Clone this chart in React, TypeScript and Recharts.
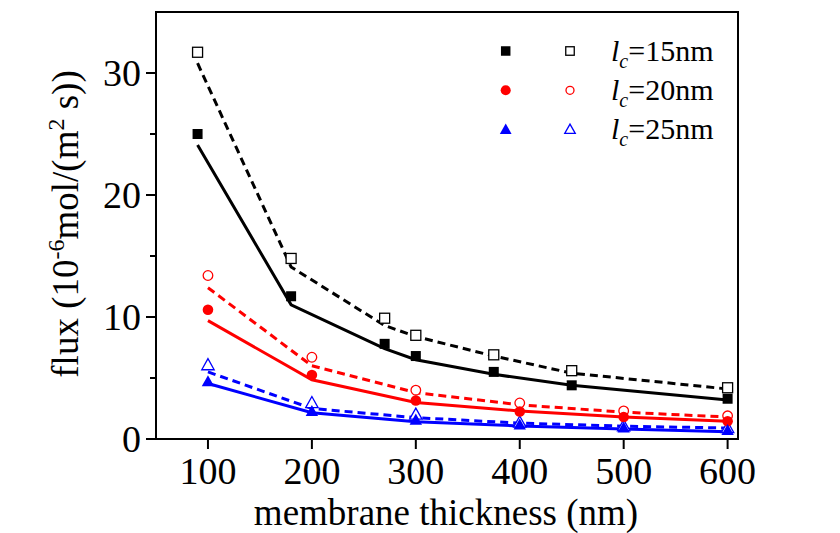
import React from 'react';
import { ComposedChart, Line, XAxis, YAxis, ReferenceArea, Legend } from 'recharts';

const FONT = '"Liberation Serif", "Times New Roman", serif';

// thickness (nm)
const thicknessA = [90, 180, 270, 300, 375, 450, 600];
const thicknessB = [100, 200, 300, 400, 500, 600];

// lc = 15 nm
const lc15Filled = [25.0, 11.7, 7.8, 6.8, 5.5, 4.4, 3.3];
const lc15Open = [31.7, 14.8, 9.9, 8.5, 6.9, 5.6, 4.2];
const lc15Solid = [24.1, 11.0, 7.4, 6.5, 5.3, 4.4, 3.2];
const lc15Dashed = [30.8, 14.1, 9.3, 8.4, 6.8, 5.4, 4.1];

// lc = 20 nm
const lc20Filled = [10.6, 5.25, 3.15, 2.25, 1.8, 1.45];
const lc20Open = [13.4, 6.7, 4.0, 2.95, 2.3, 1.9];
const lc20Solid = [9.7, 4.85, 3.0, 2.3, 1.8, 1.45];
const lc20Dashed = [12.4, 6.0, 3.8, 2.8, 2.2, 1.8];

// lc = 25 nm
const lc25Filled = [4.7, 2.25, 1.55, 1.15, 0.9, 0.7];
const lc25Open = [6.05, 2.95, 2.0, 1.35, 1.05, 0.9];
const lc25Solid = [4.55, 2.15, 1.42, 1.07, 0.82, 0.6];
const lc25Dashed = [5.5, 2.5, 1.75, 1.3, 1.05, 0.9];

const xTicks = [100, 200, 300, 400, 500, 600];
const yTicks = [0, 5, 10, 15, 20, 25, 30];
const legendLabels = ['15nm', '20nm', '25nm'];

const BLACK = '#000000';
const RED = '#ff0000';
const BLUE = '#0000ff';

const toData = (xs: number[], ys: number[]) => xs.map((x, i) => ({ x, y: ys[i] }));

type Kind = 'square' | 'circle' | 'triangle';

const Marker = ({ cx, cy, kind, color, filled, size = 1 }: any) => {
  const fill = filled ? color : '#ffffff';
  const stroke = color;
  const sw = filled ? 0 : 1.3;
  if (cx == null || cy == null) return null;
  if (kind === 'square') {
    const s = 10 * size;
    return <rect x={cx - s / 2} y={cy - s / 2} width={s} height={s} fill={fill} stroke={stroke} strokeWidth={sw} />;
  }
  if (kind === 'circle') {
    const r = 5.3 * size;
    return <circle cx={cx} cy={cy} r={filled ? r : r - 0.5} fill={fill} stroke={stroke} strokeWidth={sw} />;
  }
  const h = 6.5 * size;
  const w = 6.2 * size;
  const pts = `${cx},${cy - h} ${cx - w},${cy + h * 0.7} ${cx + w},${cy + h * 0.7}`;
  return <polygon points={pts} fill={fill} stroke={stroke} strokeWidth={sw} />;
};

const dotFn = (kind: Kind, color: string, filled: boolean) => (props: any) => (
  <Marker key={`${kind}-${color}-${filled}-${props.index}`} cx={props.cx} cy={props.cy} kind={kind} color={color} filled={filled} />
);

const YTick = (props: any) => {
  const { x, y, payload } = props;
  const axisX = x + 15;
  const v = payload.value;
  const major = v % 10 === 0;
  return (
    <g>
      <line x1={axisX - (major ? 10 : 6)} x2={axisX} y1={y} y2={y} stroke="#000" strokeWidth={2} />
      {major && (
        <text x={x} y={y} dy="0.355em" textAnchor="end" fontFamily={FONT} fontSize={38} fill="#000">
          {v}
        </text>
      )}
    </g>
  );
};

const LegendContent = () => {
  const rows: { kind: Kind; color: string }[] = [
    { kind: 'square', color: BLACK },
    { kind: 'circle', color: RED },
    { kind: 'triangle', color: BLUE },
  ];
  return (
    <svg width={260} height={130} style={{ display: 'block' }}>
      {rows.map((r, i) => {
        const cy = 31 + i * 39.3;
        return (
          <g key={i}>
            <Marker cx={25.7} cy={cy} kind={r.kind} color={r.color} filled={true} size={0.95} />
            <Marker cx={90} cy={cy} kind={r.kind} color={r.color} filled={false} size={0.85} />
            <text x={131} y={cy + 9.7} fontFamily={FONT} fontSize={30} fill="#000">
              <tspan fontStyle="italic">l</tspan>
              <tspan fontStyle="italic" fontSize={20} dy={7}>c</tspan>
              <tspan dy={-7}>={legendLabels[i]}</tspan>
            </text>
          </g>
        );
      })}
    </svg>
  );
};

const XLabel = () => (
  <text x={446} y={525} textAnchor="middle" fontFamily={FONT} fontSize={37} fill="#000">
    membrane thickness (nm)
  </text>
);

const YLabel = () => (
  <text transform="translate(78,224) rotate(-90)" textAnchor="middle" fontFamily={FONT} fontSize={37} fill="#000">
    <tspan>flux (10</tspan>
    <tspan dy={-14} fontSize={24}>-6</tspan>
    <tspan dy={14}>mol/(m</tspan>
    <tspan dy={-14} fontSize={24}>2</tspan>
    <tspan dy={14}>{' s))'}</tspan>
  </text>
);

const seriesDefs = [
  { xs: thicknessA, filled: lc15Filled, open: lc15Open, solid: lc15Solid, dashed: lc15Dashed, color: BLACK, kind: 'square' as Kind },
  { xs: thicknessB, filled: lc20Filled, open: lc20Open, solid: lc20Solid, dashed: lc20Dashed, color: RED, kind: 'circle' as Kind },
  { xs: thicknessB, filled: lc25Filled, open: lc25Open, solid: lc25Solid, dashed: lc25Dashed, color: BLUE, kind: 'triangle' as Kind },
];

export default function App() {
  return (
    <div style={{ position: 'absolute', left: 0, top: 0, width: 840, height: 533, background: '#fff' }}>
      <ComposedChart width={840} height={533} margin={{ top: 12, right: 102, bottom: 34, left: 76 }}>
        <XAxis
          type="number"
          dataKey="x"
          domain={[50, 610]}
          ticks={xTicks}
          allowDataOverflow
          height={60}
          tickSize={10}
          tickMargin={8}
          stroke="#000"
          strokeWidth={2}
          tick={{ fill: '#000', fontSize: 38, fontFamily: FONT }}
          label={{ content: XLabel }}
        />
        <YAxis
          type="number"
          dataKey="y"
          domain={[0, 35]}
          ticks={yTicks}
          allowDataOverflow
          width={80}
          tickSize={10}
          tickMargin={5}
          tickLine={false}
          stroke="#000"
          strokeWidth={2}
          tick={<YTick />}
          label={{ content: YLabel }}
        />
        <ReferenceArea x1={50} x2={610} y1={0} y2={35} fill="none" stroke="#000" strokeWidth={2} ifOverflow="visible" />
        {seriesDefs.map((s, i) => (
          <Line
            key={`solid-${i}`}
            data={toData(s.xs, s.solid)}
            dataKey="y"
            stroke={s.color}
            strokeWidth={3}
            dot={false}
            activeDot={false}
            legendType="none"
            isAnimationActive={false}
          />
        ))}
        {seriesDefs.map((s, i) => (
          <Line
            key={`dashed-${i}`}
            data={toData(s.xs, s.dashed)}
            dataKey="y"
            stroke={s.color}
            strokeWidth={3}
            strokeDasharray="8 5"
            dot={false}
            activeDot={false}
            legendType="none"
            isAnimationActive={false}
          />
        ))}
        {seriesDefs.map((s, i) => (
          <Line
            key={`open-${i}`}
            data={toData(s.xs, s.open)}
            dataKey="y"
            stroke="none"
            dot={dotFn(s.kind, s.color, false)}
            activeDot={false}
            legendType="none"
            isAnimationActive={false}
          />
        ))}
        {seriesDefs.map((s, i) => (
          <Line
            key={`filled-${i}`}
            data={toData(s.xs, s.filled)}
            dataKey="y"
            stroke="none"
            dot={dotFn(s.kind, s.color, true)}
            activeDot={false}
            legendType="none"
            isAnimationActive={false}
          />
        ))}
        <Legend
          layout="horizontal"
          verticalAlign="middle"
          align="center"
          wrapperStyle={{ left: 480, top: 20, width: 260, height: 130 }}
          content={LegendContent}
        />
      </ComposedChart>
    </div>
  );
}
